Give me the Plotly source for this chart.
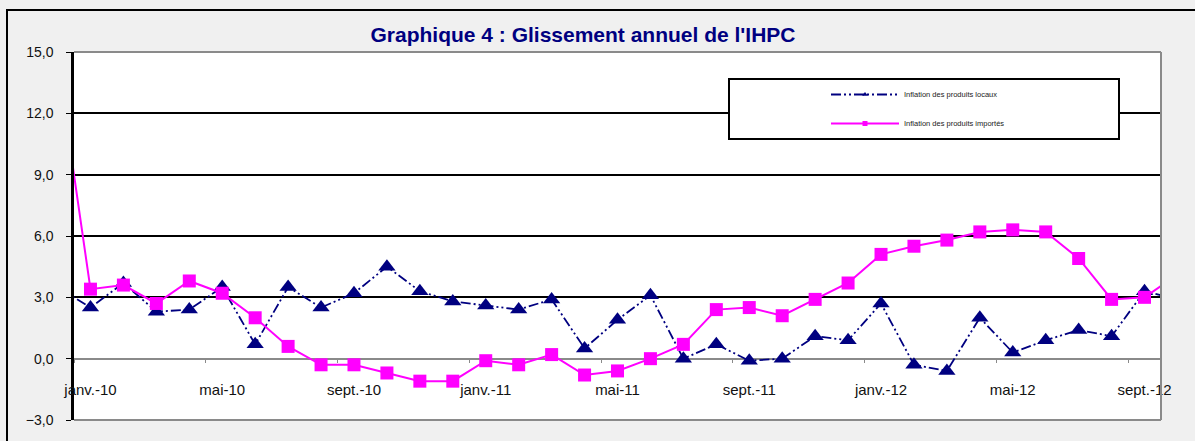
import plotly.graph_objects as go

# ---- data -------------------------------------------------------------
months = [
    "déc.-09",
    "janv.-10", "févr.-10", "mars-10", "avr.-10", "mai-10", "juin-10",
    "juil.-10", "août-10", "sept.-10", "oct.-10", "nov.-10", "déc.-10",
    "janv.-11", "févr.-11", "mars-11", "avr.-11", "mai-11", "juin-11",
    "juil.-11", "août-11", "sept.-11", "oct.-11", "nov.-11", "déc.-11",
    "janv.-12", "févr.-12", "mars-12", "avr.-12", "mai-12", "juin-12",
    "juil.-12", "août-12", "sept.-12", "oct.-12",
]

inflation_locaux = [
    3.5,
    2.5, 3.7, 2.3, 2.4, 3.5, 0.7,
    3.5, 2.5, 3.2, 4.5, 3.3, 2.8,
    2.6, 2.4, 2.9, 0.5, 1.9, 3.1,
    0.0, 0.7, -0.1, 0.0, 1.1, 0.9,
    2.7, -0.3, -0.6, 2.0, 0.3, 0.9,
    1.4, 1.1, 3.3, 2.9,
]

inflation_importes = [
    14.6,
    3.4, 3.6, 2.7, 3.8, 3.2, 2.0,
    0.6, -0.3, -0.3, -0.7, -1.1, -1.1,
    -0.1, -0.3, 0.2, -0.8, -0.6, 0.0,
    0.7, 2.4, 2.5, 2.1, 2.9, 3.7,
    5.1, 5.5, 5.8, 6.2, 6.3, 6.2,
    4.9, 2.9, 3.0, 4.1,
]

tick_labels = ["janv.-10", "mai-10", "sept.-10", "janv.-11", "mai-11",
               "sept.-11", "janv.-12", "mai-12", "sept.-12"]

y_ticks = [-3, 0, 3, 6, 9, 12, 15]

series_names = ["Inflation des produits locaux", "Inflation des produits importés"]
title_text = "Graphique 4 : Glissement annuel de l'IHPC"

# ---- derived positions -------------------------------------------------
first_visible = months.index("janv.-10")
x_idx = [i - first_visible for i in range(len(months))]
tick_vals = [months.index(l) - first_visible for l in tick_labels]
tick_bounds = [v - 0.5 for v in tick_vals]

NAVY = "#000080"
MAGENTA = "#FF00FF"
GRAY = "#8a8a8a"
FONT = "Liberation Sans, Arial, sans-serif"
blue_dash = "10px,3px,2px,3px,2px,3px"

fig = go.Figure()

fig.add_trace(go.Scatter(
    x=x_idx, y=inflation_locaux, mode="lines+markers",
    line=dict(color=NAVY, width=1.8, dash=blue_dash),
    marker=dict(symbol="triangle-up", size=15, color=NAVY),
    showlegend=False, cliponaxis=True,
))
fig.add_trace(go.Scatter(
    x=x_idx, y=inflation_importes, mode="lines+markers",
    line=dict(color=MAGENTA, width=2),
    marker=dict(symbol="square", size=13, color=MAGENTA),
    showlegend=False, cliponaxis=True,
))
# legend-only entries (small symbols, like the reference)
fig.add_trace(go.Scatter(
    x=[None], y=[None], mode="lines+markers", name=series_names[0],
    line=dict(color=NAVY, width=1.8, dash=blue_dash),
    marker=dict(symbol="triangle-up", size=5, color=NAVY),
    legendgroup="a",
))
fig.add_trace(go.Scatter(
    x=[None], y=[None], mode="lines+markers", name=series_names[1],
    line=dict(color=MAGENTA, width=2),
    marker=dict(symbol="square", size=5, color=MAGENTA),
    legendgroup="b",
))

W, H = 1195, 441
ML, MR, MT, MB = 74, 34, 52, 21
PW, PH = W - ML - MR, H - MT - MB


def px2x(px):
    return (px - ML) / PW


def px2y(py):
    return 1 - (py - MT) / PH


shapes = [
    # outer chart frame
    dict(type="rect", xref="paper", yref="paper",
         x0=px2x(7), x1=px2x(1300), y0=px2y(600), y1=px2y(10),
         line=dict(color="black", width=2), fillcolor="rgba(0,0,0,0)", layer="below"),
    # plot area borders (gray): top, bottom, right
    dict(type="line", xref="paper", yref="paper", x0=0, x1=1, y0=1, y1=1,
         line=dict(color=GRAY, width=2), layer="above"),
    dict(type="line", xref="paper", yref="paper", x0=0, x1=1, y0=0, y1=0,
         line=dict(color=GRAY, width=2), layer="above"),
    dict(type="line", xref="paper", yref="paper", x0=1, x1=1, y0=0, y1=1,
         line=dict(color=GRAY, width=2), layer="above"),
    # legend box
    dict(type="rect", xref="paper", yref="paper",
         x0=px2x(729), x1=px2x(1119), y0=px2y(139), y1=px2y(79),
         line=dict(color="black", width=2), fillcolor="white", layer="above"),
]

fig.update_layout(
    width=W, height=H,
    margin=dict(l=ML, r=MR, t=MT, b=MB),
    paper_bgcolor="#f0f0f0",
    plot_bgcolor="white",
    separators=", ",
    font=dict(family=FONT, color="#111111"),
    title=dict(
        text="<b>" + title_text + "</b>",
        font=dict(family=FONT, size=21, color=NAVY),
        x=px2x(583), xref="paper", xanchor="center",
        y=1 - 35 / H, yref="container", yanchor="middle",
    ),
    xaxis=dict(
        range=[-0.5, 32.5],
        anchor="free", position=3 / 18,
        showgrid=False, zeroline=False, showline=False,
        tickmode="array", tickvals=tick_vals, ticktext=tick_labels,
        ticks="", ticklabelstandoff=20,
        tickfont=dict(family=FONT, size=15, color="#111111"),
        minor=dict(tickmode="array", tickvals=tick_bounds, ticks="outside",
                   ticklen=3, tickwidth=1, tickcolor=GRAY),
    ),
    yaxis=dict(
        range=[-3, 15],
        tickmode="array", tickvals=y_ticks, tickformat=".1f",
        showgrid=True, gridcolor="black", gridwidth=2,
        zeroline=True, zerolinecolor=GRAY, zerolinewidth=2,
        showline=True, linecolor="black", linewidth=2.5,
        ticks="outside", ticklen=5, tickcolor="black", tickwidth=1,
        ticklabelstandoff=10,
        tickfont=dict(family=FONT, size=14, color="#111111"),
    ),
    shapes=shapes,
    legend=dict(
        x=px2x(826), y=px2y(80), xanchor="left", yanchor="top",
        bgcolor="rgba(0,0,0,0)", borderwidth=0,
        font=dict(family=FONT, size=7.5, color="#222222"),
        itemwidth=68, tracegroupgap=10, traceorder="grouped",
    ),
)

fig.write_html(
    "out.html",
    config={"displayModeBar": False},
    post_script="document.body.style.margin='0';document.body.style.background='#f0f0f0';",
)
